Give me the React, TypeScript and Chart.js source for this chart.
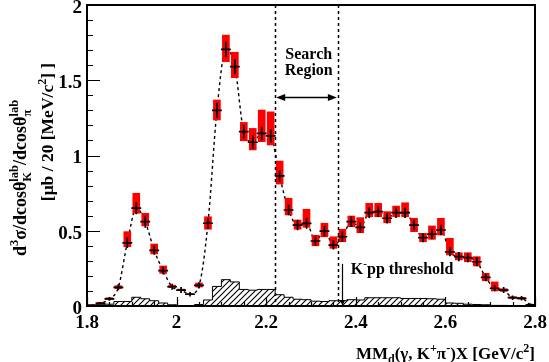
import React, { useEffect, useRef } from 'react';
import { Chart, registerables } from 'chart.js';

Chart.register(...registerables);

// ---- data ----
const binCenters = [
  1.81, 1.83, 1.85, 1.87, 1.89, 1.91, 1.93, 1.95, 1.97, 1.99,
  2.01, 2.03, 2.05, 2.07, 2.09, 2.11, 2.13, 2.15, 2.17, 2.19,
  2.21, 2.23, 2.25, 2.27, 2.29, 2.31, 2.33, 2.35, 2.37, 2.39,
  2.41, 2.43, 2.45, 2.47, 2.49, 2.51, 2.53, 2.55, 2.57, 2.59,
  2.61, 2.63, 2.65, 2.67, 2.69, 2.71, 2.73, 2.75, 2.77, 2.79,
];
const yields = [
  0.005, 0.018, 0.047, 0.124, 0.42, 0.65, 0.56, 0.37, 0.235, 0.128,
  0.106, 0.078, 0.137, 0.55, 1.30, 1.705, 1.59, 1.158, 1.088, 1.147,
  1.13, 0.864, 0.638, 0.538, 0.549, 0.432, 0.498, 0.405, 0.46, 0.56,
  0.523, 0.62, 0.627, 0.583, 0.62, 0.62, 0.538, 0.454, 0.478, 0.505,
  0.36, 0.328, 0.321, 0.294, 0.19, 0.118, 0.106, 0.055, 0.051, 0.007,
];
const statErr = [
  0.005, 0.008, 0.012, 0.02, 0.035, 0.04, 0.04, 0.03, 0.025, 0.02,
  0.02, 0.015, 0.02, 0.035, 0.05, 0.05, 0.05, 0.045, 0.045, 0.045,
  0.045, 0.04, 0.035, 0.035, 0.035, 0.03, 0.035, 0.03, 0.035, 0.035,
  0.035, 0.035, 0.035, 0.035, 0.035, 0.035, 0.035, 0.03, 0.035, 0.035,
  0.03, 0.03, 0.03, 0.03, 0.025, 0.02, 0.02, 0.015, 0.015, 0.01,
];
const sysLow = [
  0.003, 0.015, 0.043, 0.115, 0.394, 0.616, 0.532, 0.346, 0.217, 0.122,
  0.102, 0.075, 0.126, 0.51, 1.236, 1.623, 1.517, 1.098, 1.037, 1.092,
  1.07, 0.81, 0.605, 0.51, 0.523, 0.40, 0.46, 0.383, 0.427, 0.527,
  0.487, 0.593, 0.593, 0.553, 0.593, 0.593, 0.494, 0.427, 0.443, 0.472,
  0.339, 0.306, 0.294, 0.266, 0.168, 0.10, 0.097, 0.05, 0.046, 0.004,
];
const sysHigh = [
  0.008, 0.025, 0.055, 0.135, 0.494, 0.749, 0.616, 0.412, 0.266, 0.138,
  0.112, 0.083, 0.153, 0.593, 1.369, 1.80, 1.686, 1.22, 1.18, 1.302,
  1.29, 0.963, 0.716, 0.571, 0.643, 0.47, 0.55, 0.46, 0.51, 0.598,
  0.587, 0.682, 0.682, 0.627, 0.664, 0.686, 0.583, 0.483, 0.532, 0.583,
  0.45, 0.354, 0.354, 0.328, 0.217, 0.16, 0.115, 0.062, 0.058, 0.012,
];
const bgEdges = [
  1.80, 1.82, 1.84, 1.86, 1.88, 1.90, 1.92, 1.94, 1.96, 1.98,
  2.00, 2.02, 2.04, 2.06, 2.08, 2.10, 2.12, 2.14, 2.16, 2.18,
  2.20, 2.22, 2.24, 2.26, 2.28, 2.30, 2.32, 2.34, 2.36, 2.38,
  2.40, 2.42, 2.44, 2.46, 2.48, 2.50, 2.52, 2.54, 2.56, 2.58,
  2.60, 2.62, 2.64, 2.66, 2.68, 2.70, 2.72, 2.74, 2.76, 2.78, 2.80,
];
const bgValues = [
  0.005, 0.008, 0.012, 0.03, 0.03, 0.058, 0.048, 0.035, 0.02, 0.008,
  0.003, 0.003, 0.01, 0.04, 0.13, 0.175, 0.16, 0.11, 0.105, 0.11,
  0.11, 0.075, 0.058, 0.045, 0.042, 0.032, 0.03, 0.035, 0.035, 0.042,
  0.04, 0.055, 0.055, 0.055, 0.055, 0.05, 0.05, 0.05, 0.048, 0.045,
  0.02, 0.018, 0.012, 0.01, 0.008, 0.004, 0.004, 0.003, 0.002, 0.001,
];
const xRange = [1.8, 2.8];
const yRange = [0, 2];
const searchRegion = [2.22, 2.36];
const searchArrowY = 1.39;
const searchTextPos = [2.295, 1.668, 1.563];
const kppThreshold = 2.37;
const kppArrowTop = 0.28;
const kppTextPos = [2.389, 0.25];

const FONT = '"Liberation Serif", "Times New Roman", serif';

type Seg = { k: 'n' | 'sup' | 'sub' | 'both'; t: string; b?: string };

function segWidth(ctx: CanvasRenderingContext2D, s: Seg, base: number, small: number) {
  if (s.k === 'n') { ctx.font = `bold ${base}px ${FONT}`; return ctx.measureText(s.t).width; }
  ctx.font = `bold ${small}px ${FONT}`;
  if (s.k === 'both') return Math.max(ctx.measureText(s.t).width, ctx.measureText(s.b || '').width);
  return ctx.measureText(s.t).width;
}
function richWidth(ctx: CanvasRenderingContext2D, segs: Seg[], base: number, small: number) {
  return segs.reduce((a, s) => a + segWidth(ctx, s, base, small), 0);
}
function drawRich(ctx: CanvasRenderingContext2D, segs: Seg[], x: number, y: number, base: number, small: number) {
  let cx = x;
  ctx.textAlign = 'left';
  ctx.textBaseline = 'alphabetic';
  for (const s of segs) {
    const w = segWidth(ctx, s, base, small);
    if (s.k === 'n') {
      ctx.font = `bold ${base}px ${FONT}`;
      ctx.fillText(s.t, cx, y);
    } else {
      ctx.font = `bold ${small}px ${FONT}`;
      if (s.k === 'sup') ctx.fillText(s.t, cx, y - base * 0.42);
      else if (s.k === 'sub') ctx.fillText(s.t, cx, y + base * 0.25);
      else {
        ctx.fillText(s.t, cx, y - base * 0.42);
        ctx.fillText(s.b || '', cx, y + base * 0.25);
      }
    }
    cx += w;
  }
}

const yTitle1: Seg[] = [
  { k: 'n', t: 'd' }, { k: 'sup', t: '3' }, { k: 'n', t: 'σ/dcosθ' },
  { k: 'both', t: 'lab', b: 'K' }, { k: 'n', t: '/dcosθ' }, { k: 'both', t: 'lab', b: 'π' },
];
const yTitle2: Seg[] = [
  { k: 'n', t: '[μb / 20 [MeV/c' }, { k: 'sup', t: '2' }, { k: 'n', t: '] ]' },
];
const xTitle: Seg[] = [
  { k: 'n', t: 'MM' }, { k: 'sub', t: 'd' }, { k: 'n', t: '(γ, K' }, { k: 'sup', t: '+' },
  { k: 'n', t: 'π' }, { k: 'sup', t: '-' }, { k: 'n', t: ')X [GeV/c' }, { k: 'sup', t: '2' }, { k: 'n', t: ']' },
];
const kppLabel: Seg[] = [{ k: 'n', t: 'K' }, { k: 'sup', t: '-' }, { k: 'n', t: 'pp threshold' }];

function arrowHead(ctx: CanvasRenderingContext2D, x: number, y: number, dx: number, dy: number, len: number, half: number) {
  const px = -dy, py = dx;
  ctx.beginPath();
  ctx.moveTo(x, y);
  ctx.lineTo(x - dx * len + px * half, y - dy * len + py * half);
  ctx.lineTo(x - dx * len - px * half, y - dy * len - py * half);
  ctx.closePath();
  ctx.fill();
}

const overlayPlugin = {
  id: 'overlay',
  afterDatasetsDraw(chart: any) {
    const ctx: CanvasRenderingContext2D = chart.ctx;
    const xs = chart.scales.x, ys = chart.scales.y;
    const { left, right, top, bottom } = chart.chartArea;
    ctx.save();
    ctx.fillStyle = '#000';
    ctx.strokeStyle = '#000';

    // crosses (stat errors + bin width)
    ctx.lineWidth = 1.7;
    for (let i = 0; i < binCenters.length; i++) {
      const cx = xs.getPixelForValue(binCenters[i]);
      const cy = ys.getPixelForValue(yields[i]);
      const x1 = xs.getPixelForValue(binCenters[i] - 0.011);
      const x2 = xs.getPixelForValue(binCenters[i] + 0.011);
      const y1 = ys.getPixelForValue(yields[i] + statErr[i]);
      const y2 = ys.getPixelForValue(yields[i] - statErr[i]);
      ctx.beginPath();
      ctx.moveTo(x1, cy); ctx.lineTo(x2, cy);
      ctx.moveTo(cx, y1); ctx.lineTo(cx, y2);
      ctx.stroke();
    }

    // search region dashed lines
    ctx.lineWidth = 1.5;
    ctx.setLineDash([3, 3]);
    for (const v of searchRegion) {
      const px = Math.round(xs.getPixelForValue(v)) + 0.5;
      ctx.beginPath();
      ctx.moveTo(px, top); ctx.lineTo(px, bottom);
      ctx.stroke();
    }
    ctx.setLineDash([]);

    // search region double arrow
    const ax1 = xs.getPixelForValue(searchRegion[0]) + 1;
    const ax2 = xs.getPixelForValue(searchRegion[1]) - 1;
    const ay = Math.round(ys.getPixelForValue(searchArrowY)) + 0.5;
    ctx.lineWidth = 1.5;
    ctx.beginPath();
    ctx.moveTo(ax1 + 4, ay); ctx.lineTo(ax2 - 4, ay);
    ctx.stroke();
    arrowHead(ctx, ax1, ay, -1, 0, 9, 3.5);
    arrowHead(ctx, ax2, ay, 1, 0, 9, 3.5);

    ctx.font = `bold 16px ${FONT}`;
    ctx.textAlign = 'center';
    ctx.textBaseline = 'middle';
    const stx = xs.getPixelForValue(searchTextPos[0]);
    ctx.fillText('Search', stx, ys.getPixelForValue(searchTextPos[1]));
    ctx.fillText('Region', stx, ys.getPixelForValue(searchTextPos[2]));

    // K-pp threshold arrow
    const kx = Math.round(xs.getPixelForValue(kppThreshold)) + 0.5;
    const ky1 = ys.getPixelForValue(kppArrowTop);
    const ky2 = ys.getPixelForValue(0);
    ctx.lineWidth = 1.2;
    ctx.beginPath();
    ctx.moveTo(kx, ky1); ctx.lineTo(kx, ky2 - 4);
    ctx.stroke();
    arrowHead(ctx, kx, ky2, 0, 1, 6, 2.5);
    drawRich(ctx, kppLabel, xs.getPixelForValue(kppTextPos[0]), ys.getPixelForValue(kppTextPos[1]) + 5.5, 16, 11);

    // frame
    ctx.lineWidth = 2;
    ctx.strokeRect(left, top, right - left, bottom - top);

    // ticks
    ctx.lineWidth = 1.2;
    ctx.beginPath();
    for (let i = 0; i <= 20; i++) {
      const v = i * 0.1;
      const py = Math.round(ys.getPixelForValue(v)) + 0.5;
      const len = i % 5 === 0 ? 13 : 6;
      ctx.moveTo(left, py); ctx.lineTo(left + len, py);
    }
    for (let i = 0; i <= 20; i++) {
      const v = xRange[0] + i * 0.05;
      const px = Math.round(xs.getPixelForValue(v)) + 0.5;
      const len = i % 4 === 0 ? 9 : 4;
      ctx.moveTo(px, bottom); ctx.lineTo(px, bottom - len);
    }
    ctx.stroke();

    // axis titles
    const xw = richWidth(ctx, xTitle, 17, 12);
    drawRich(ctx, xTitle, right - xw, 359, 17, 12);

    ctx.save();
    ctx.translate(26, 178);
    ctx.rotate(-Math.PI / 2);
    const w1 = richWidth(ctx, yTitle1, 18, 12.5);
    drawRich(ctx, yTitle1, -w1 / 2, 0, 18, 12.5);
    ctx.restore();

    ctx.save();
    ctx.translate(53, 132);
    ctx.rotate(-Math.PI / 2);
    const w2 = richWidth(ctx, yTitle2, 17.5, 12);
    drawRich(ctx, yTitle2, -w2 / 2, 0, 17.5, 12);
    ctx.restore();

    ctx.restore();
  },
};

function makeHatch(): CanvasPattern | string {
  const c = document.createElement('canvas');
  const s = 6;
  c.width = s; c.height = s;
  const g = c.getContext('2d');
  if (!g) return 'rgba(0,0,0,0.2)';
  g.strokeStyle = '#000';
  g.lineWidth = 1.1;
  g.beginPath();
  g.moveTo(-1, s + 1); g.lineTo(s + 1, -1);
  g.moveTo(-1, 1); g.lineTo(1, -1);
  g.moveTo(s - 1, s + 1); g.lineTo(s + 1, s - 1);
  g.stroke();
  const p = g.createPattern(c, 'repeat');
  return p || 'rgba(0,0,0,0.2)';
}

export default function App() {
  const ref = useRef<HTMLCanvasElement | null>(null);
  useEffect(() => {
    if (!ref.current) return;
    const hatch = makeHatch();
    const points = binCenters.map((x, i) => ({ x, y: yields[i] }));
    const boxes = binCenters.map((x, i) => ({ x, y: [sysLow[i], sysHigh[i]] }));
    const bg = bgEdges.map((x, i) => ({ x, y: bgValues[Math.min(i, bgValues.length - 1)] }));

    const chart = new Chart(ref.current, {
      type: 'bar',
      data: {
        datasets: [
          {
            type: 'bar',
            data: boxes as any,
            backgroundColor: '#ff0000',
            borderWidth: 0,
            barThickness: 7,
            order: 1,
          } as any,
          {
            type: 'line',
            data: points,
            borderColor: '#000',
            borderWidth: 1.4,
            borderDash: [3, 3],
            pointRadius: 0,
            cubicInterpolationMode: 'monotone',
            fill: false,
            order: 2,
          } as any,
          {
            type: 'line',
            data: bg,
            stepped: true,
            borderColor: '#000',
            borderWidth: 1,
            backgroundColor: hatch,
            fill: 'origin',
            pointRadius: 0,
            order: 3,
          } as any,
        ],
      },
      options: {
        responsive: false,
        animation: false,
        events: [],
        layout: { padding: { left: 0, right: 14, top: 5, bottom: 0 } },
        plugins: { legend: { display: false }, tooltip: { enabled: false } },
        scales: {
          x: {
            type: 'linear',
            min: xRange[0],
            max: xRange[1],
            offset: false,
            grid: { display: false, drawTicks: false },
            border: { display: false },
            ticks: {
              stepSize: 0.2,
              autoSkip: false,
              maxRotation: 0,
              padding: 6,
              color: '#000',
              font: { family: FONT, size: 19, weight: 'bold' },
              callback: (v: any) => String(Math.round(Number(v) * 10) / 10),
            },
            afterFit: (s: any) => {
              s.height = 56;
              s.paddingLeft = 0; s.paddingRight = 0;
            },
          },
          y: {
            type: 'linear',
            min: yRange[0],
            max: yRange[1],
            grid: { display: false, drawTicks: false },
            border: { display: false },
            ticks: {
              stepSize: 0.5,
              padding: 5,
              labelOffset: 3,
              color: '#000',
              font: { family: FONT, size: 19, weight: 'bold' },
              callback: (v: any) => String(Math.round(Number(v) * 10) / 10),
            },
            afterFit: (s: any) => {
              s.width = 87;
              s.paddingTop = 0; s.paddingBottom = 0;
            },
          },
        },
      } as any,
      plugins: [overlayPlugin],
    });
    return () => chart.destroy();
  }, []);
  return (
    <div style={{ position: 'absolute', left: 0, top: 0, width: 549, height: 362, background: '#fff' }}>
      <canvas ref={ref} width={549} height={362} style={{ display: 'block' }} />
    </div>
  );
}
